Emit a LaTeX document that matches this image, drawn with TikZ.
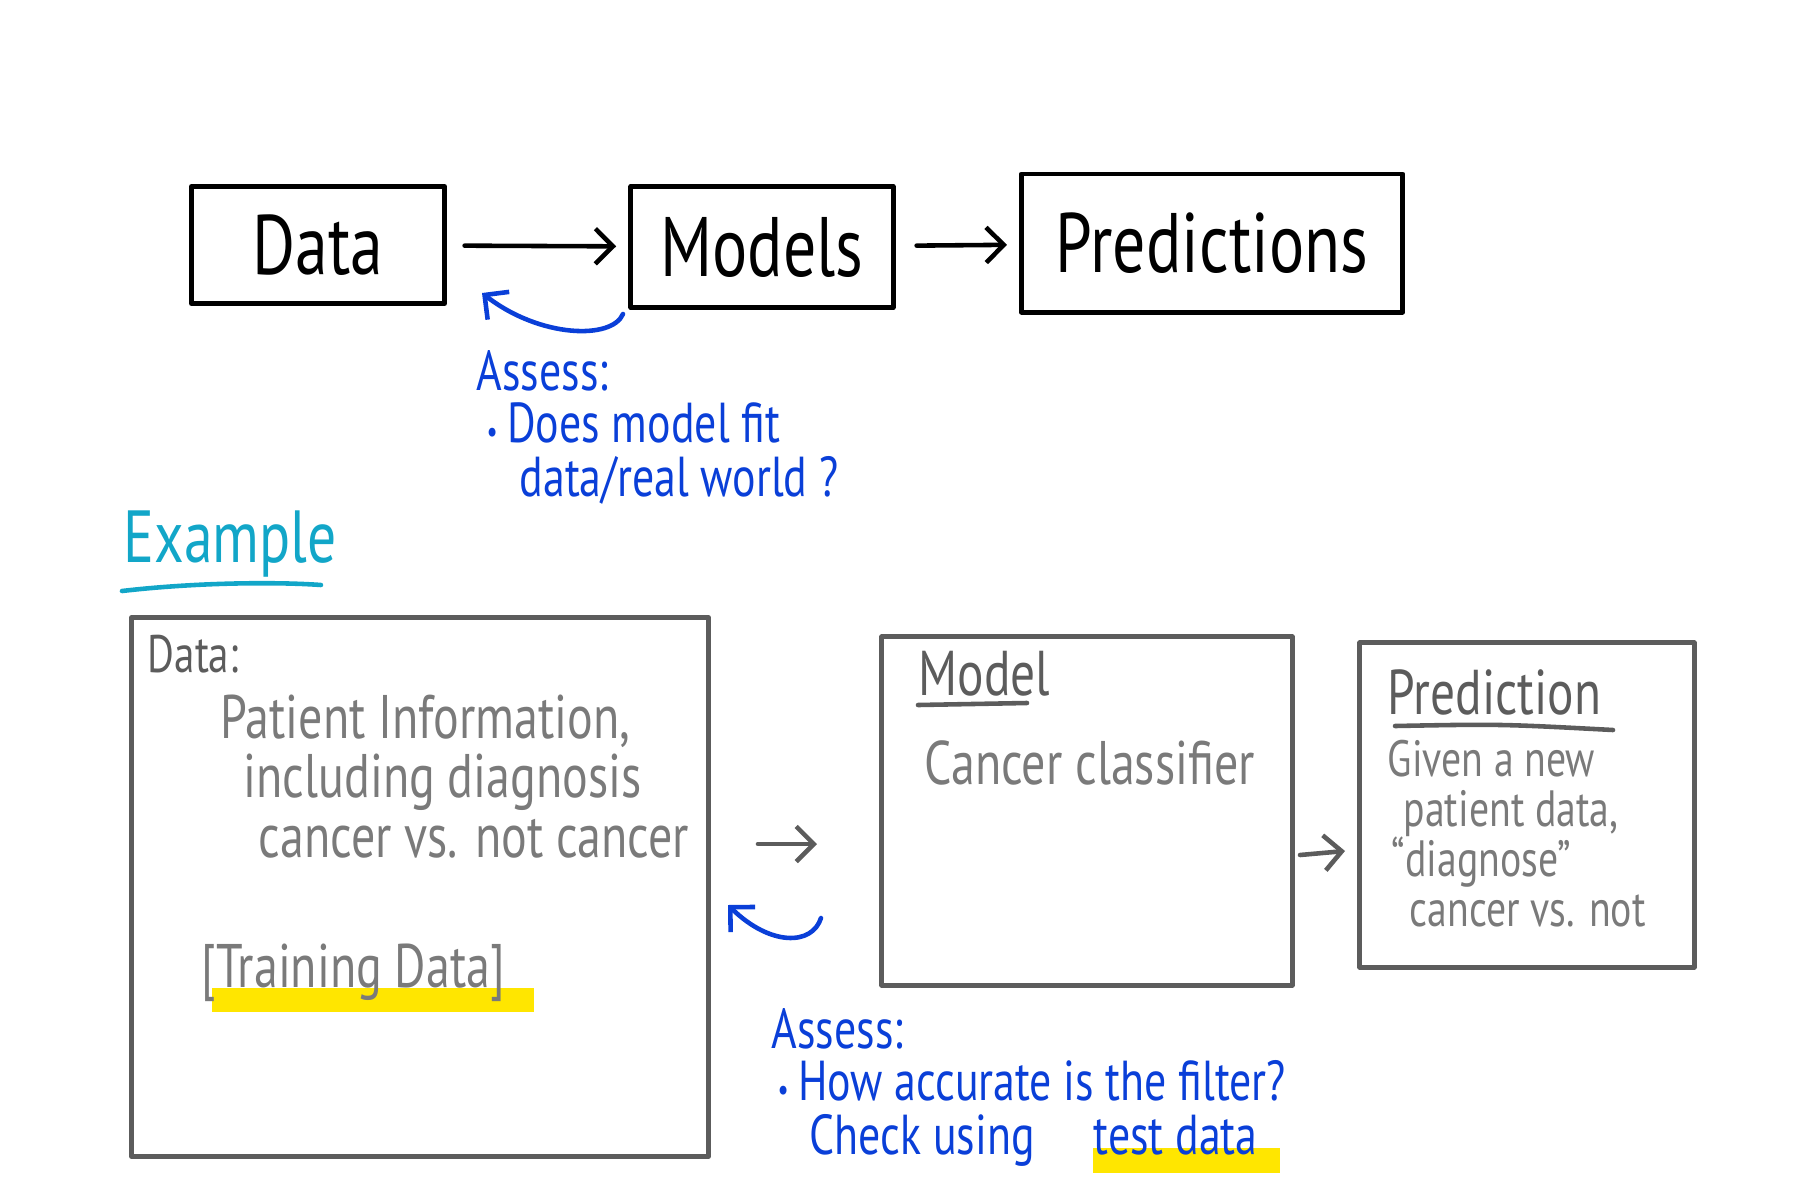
\documentclass[tikz,border=0pt]{standalone}
\usepackage{fontspec}
\newfontfamily\hand[FakeStretch=0.78]{PT Sans}
\usetikzlibrary{arrows.meta}
\definecolor{inkblue}{HTML}{0A3FD8}
\definecolor{inkteal}{HTML}{12A6C8}
\definecolor{inkgray}{HTML}{5C5C5C}
\definecolor{txtgray}{HTML}{7A7A7A}
\definecolor{marker}{HTML}{FFE600}
\newcommand{\dotmark}{{\fontsize{9}{9}\selectfont\textbullet}\,}

\begin{document}
\begin{tikzpicture}[x=0.01cm, y=-0.01cm, line cap=round, line join=round,
  topbox/.style={draw=black, line width=1.4pt, inner sep=0pt,
    font=\hand\fontsize{24}{28}\selectfont},
  exbox/.style={draw=inkgray, line width=1.4pt, inner sep=0pt},
  flow/.style={-{Straight Barb[length=5pt, width=10pt]}, line width=1.3pt},
  loopback/.style={draw=inkblue, -{Straight Barb[length=5pt, width=10pt]}, line width=1.3pt},
  note/.style={text=inkblue, anchor=base west, inner sep=0pt,
    font=\hand\fontsize{16}{18}\selectfont},
  body/.style={text=txtgray, anchor=base west, inner sep=0pt,
    font=\hand\fontsize{17.5}{20}\selectfont},
  small/.style={body, font=\hand\fontsize{14.5}{17}\selectfont},
  head/.style={text=inkgray, anchor=base west, inner sep=0pt,
    font=\hand\fontsize{18}{20}\selectfont}]
  \useasboundingbox (0,0) rectangle (1800,1200);

  % top row
  \node[topbox, minimum width=2.53cm, minimum height=1.17cm] (data)   at (318,245)  {Data};
  \node[topbox, minimum width=2.62cm, minimum height=1.21cm] (models) at (762,247)  {Models};
  \node[topbox, minimum width=3.81cm, minimum height=1.38cm] (preds)  at (1212,243) {Predictions};

  \draw[flow, shorten <=5pt, shorten >=3.5pt] (data) -- (models);
  \draw[flow, shorten <=6pt, shorten >=3.4pt] (models) -- (preds);

  \coordinate (fit0) at (623,314);
  \coordinate (fit1) at (482,293);
  \draw[loopback] (fit0) .. controls (612,340) and (540,338) .. (fit1);

  \node[note] (assess1) at (476,390) {Assess:};
  \node[note] (q1a) at (486,442) {\dotmark Does model fit};
  \node[note] (q1b) at (519,496) {data/real world ?};

  % example
  \node[text=inkteal, anchor=base west, inner sep=0pt,
    font=\hand\fontsize{21}{24}\selectfont] (example) at (123,562) {Example};
  \draw[inkteal, line width=1.3pt] (122,591) .. controls (200,582) and (280,582) .. (321,585);

  \node[exbox, minimum width=5.76cm, minimum height=5.39cm] (dbox) at (420,887) {};
  \node[exbox, minimum width=4.10cm, minimum height=3.48cm] (mbox) at (1087,811) {};
  \node[exbox, minimum width=3.34cm, minimum height=3.24cm] (pbox) at (1527,805) {};

  \fill[marker] (212,988) rectangle (534,1012);
  \fill[marker] (1093,1148) rectangle (1280,1173);

  \node[head, font=\hand\fontsize{15}{18}\selectfont] (dtitle) at (147,672) {Data:};
  \node[body] (d1) at (220,738) {Patient Information,};
  \node[body] (d2) at (243,797) {including diagnosis};
  \node[body] (d3) at (258,857) {cancer vs. not cancer};
  \node[body] (train) at (201,987) {[Training Data]};

  \node[head] (mtitle) at (918,695) {Model};
  \draw[inkgray, line width=1.3pt] (918,705) -- (1027,703);
  \node[body] (m1) at (924,784) {Cancer classifier};

  \node[head] (ptitle) at (1387,714) {Prediction};
  \draw[inkgray, line width=1.3pt] (1395,726) .. controls (1500,724) .. (1613,730);
  \node[small] (p1) at (1387,776) {Given a new};
  \node[small] (p2) at (1403,826) {patient data,};
  \node[small] (p3) at (1391,876) {“diagnose”};
  \node[small] (p4) at (1409,926) {cancer vs. not};

  \coordinate (a0) at (758,844);
  \coordinate (a1) at (817,844);
  \coordinate (b0) at (1300,855);
  \coordinate (b1) at (1345,851);
  \draw[flow, draw=inkgray] (a0) -- (a1);
  \draw[flow, draw=inkgray] (b0) -- (b1);

  \coordinate (acc0) at (821,918);
  \coordinate (acc1) at (728,905);
  \draw[loopback] (acc0) .. controls (812,946) and (770,946) .. (acc1);

  \node[note] (assess2) at (771,1048) {Assess:};
  \node[note] (q2a) at (777,1100) {\dotmark How accurate is the filter?};
  \node[note] (q2b) at (809,1154) {Check using};
  \node[note] (q2c) at (1093,1154) {test data};
\end{tikzpicture}
\end{document}
